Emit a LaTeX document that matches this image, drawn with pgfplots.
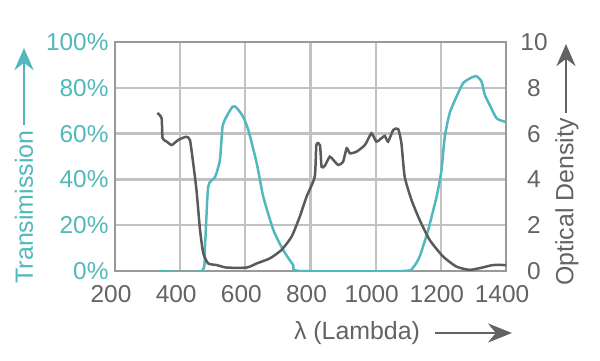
\documentclass[border=0pt]{standalone}
\usepackage{pgfplots}
\pgfplotsset{compat=1.18}
\usepackage{fontspec}
\setmainfont{Liberation Sans}
\usetikzlibrary{arrows.meta}
\definecolor{teal1}{HTML}{52B8BC}
\definecolor{txtgray}{HTML}{636363}
\definecolor{curvegray}{HTML}{5A5A5A}
\definecolor{gridgray}{HTML}{C2C2C2}
\definecolor{framegray}{HTML}{999999}
\begin{document}
\begin{tikzpicture}[x=1bp,y=1bp]
\useasboundingbox (0,0) rectangle (600,360);
\begin{axis}[at={(115bp,89bp)}, anchor=south west, scale only axis,
  width=391bp, height=229bp,
  xmin=200, xmax=1400, ymin=0, ymax=100,
  xtick={200,400,...,1400}, ytick={0,20,...,100},
  grid=major, major grid style={gridgray, line width=2.2bp},
  axis line style={framegray, line width=2bp},
  tick style={draw=none},
  /pgf/number format/assume math mode=true,
  /pgf/number format/1000 sep={},
  tick label style={font=\fontsize{24.5}{28}\selectfont},
  yticklabel={\pgfmathprintnumber{\tick}\%},
  yticklabel style={teal1, xshift=-3bp},
  xticklabel style={txtgray, xshift=-4bp, yshift=-11bp},
]
\addplot[teal1, line width=2.5bp, smooth, tension=0.35] coordinates {
(335,0) (466,0) (476,10.6) (486,36.8) (507,41) (522,48.5) (530,63) (542,67.4)
(561,71.8) (573,71.3) (593,67.4) (609,61.6) (635,47) (655,32.5) (686,17.9)
(716,9.2) (747,2.6) (767,0) (1084,0) (1115,1.6) (1135,6.3) (1161,17.9)
(1187,32.5) (1202,44) (1212,58.6) (1227,68.9) (1248,76.1) (1268,82) (1289,84.1)
(1309,85.1) (1325,82.7) (1335,76.9) (1350,72.5) (1371,66.7) (1396,65.2) (1400,65.2)
};
\end{axis}
\begin{axis}[at={(115bp,89bp)}, anchor=south west, scale only axis,
  width=391bp, height=229bp,
  xmin=200, xmax=1400, ymin=0, ymax=10,
  hide x axis, axis y line*=right, axis line style={draw=none},
  ytick={0,2,...,10}, tick style={draw=none},
  /pgf/number format/assume math mode=true,
  tick label style={font=\fontsize{24.5}{28}\selectfont},
  yticklabel style={txtgray, anchor=center, xshift=28bp},
]
\addplot[curvegray, line width=2.5bp, smooth, tension=0.35] coordinates {
(330,6.9) (343,6.67) (346,5.8) (359,5.65) (374,5.5) (394,5.72) (418,5.86)
(430,5.72) (440,4.7) (450,3.54) (461,1.79) (471,0.77) (486,0.33) (512,0.26)
(542,0.15) (604,0.15) (635,0.33) (675,0.55) (711,0.92) (742,1.5) (767,2.37)
(788,3.25) (813,4.12) (818,5.5) (829,5.5) (834,4.55) (844,4.6) (859,4.99)
(870,4.85) (885,4.63) (900,4.77) (911,5.36) (921,5.14) (941,5.21) (967,5.5)
(987,6.01) (1002,5.65) (1018,5.8) (1028,5.9) (1038,5.65) (1054,6.16) (1069,6.2)
(1079,5.58) (1089,4.12) (1110,3.1) (1135,2.23) (1166,1.35) (1207,0.63)
(1248,0.19) (1289,0.05) (1330,0.16) (1360,0.26) (1400,0.26)
};
\end{axis}
% axis titles with arrows
\node[teal1, rotate=90, font=\fontsize{25}{29}\selectfont] at (24,153) {Transimission};
\draw[teal1, line width=2.5bp, -{Stealth[width=19bp,length=22bp]}] (24,235) -- (24,312);
\node[txtgray, rotate=90, font=\fontsize{25}{29}\selectfont] at (567,158) {Optical Density};
\draw[txtgray, line width=2.5bp, -{Stealth[width=19bp,length=22bp]}] (566,247) -- (566,316);
\node[txtgray, font=\fontsize{25}{29}\selectfont] at (357,27) {λ (Lambda)};
\draw[txtgray, line width=2.5bp, -{Stealth[width=19bp,length=24bp]}] (435,27) -- (512,27);
\end{tikzpicture}
\end{document}
